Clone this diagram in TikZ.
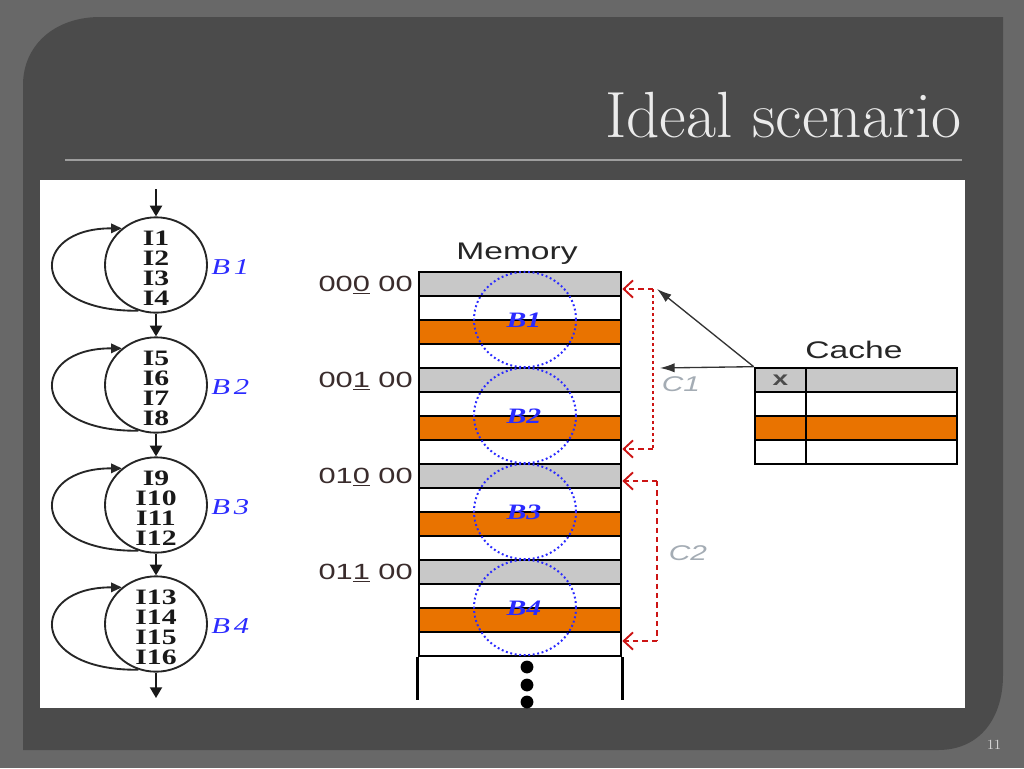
\documentclass[tikz,border=0pt]{standalone}
\usepackage{fontspec}
\usetikzlibrary{shapes.geometric,arrows.meta,calc}
\newfontfamily\wsans[FakeStretch=1.4]{Liberation Sans}
\newfontfamily\wserif[FakeStretch=1.35]{Liberation Serif}
\definecolor{outerbg}{HTML}{686868}
\definecolor{panel}{HTML}{4B4B4B}
\definecolor{orng}{HTML}{E97300}
\definecolor{rowgray}{HTML}{C8C8C8}
\definecolor{bblue}{HTML}{2B2BFF}
\definecolor{dred}{HTML}{CC1414}
\definecolor{lgray}{HTML}{A4ACB4}
\definecolor{addrc}{HTML}{3A2C2C}
\colorlet{row0}{rowgray}
\colorlet{row1}{white}
\colorlet{row2}{orng}
\colorlet{row3}{white}
\begin{document}
\begin{tikzpicture}[x=0.75pt,y=-0.75pt,
  blk/.style={ellipse,draw=black!85,line width=1.4pt,minimum width=76.5pt,minimum height=71.5pt,inner sep=0pt},
  ilist/.style={font=\wserif\bfseries\fontsize{16.5}{15}\selectfont,align=center,inner sep=0pt,text=black!90},
  blab/.style={font=\wserif\itshape\fontsize{17}{17}\selectfont,text=bblue,inner sep=0pt},
  flow/.style={-{Triangle[length=8pt,width=9pt]},line width=1.4pt,draw=black!90},
  loopar/.style={-{Triangle[length=8pt,width=7pt]},line width=1.4pt,draw=black!85},
  memrow/.style={draw=black,line width=2pt,minimum width=151.5pt,minimum height=18pt,inner sep=0pt},
  blockc/.style={ellipse,draw=bblue,line width=1.5pt,dash pattern=on 1.4pt off 2pt,minimum width=76.5pt,minimum height=71.5pt,inner sep=0pt},
  mlab/.style={font=\wserif\bfseries\itshape\fontsize{16.5}{16.5}\selectfont,text=bblue,inner sep=0pt},
  addr/.style={font=\wsans\fontsize{16.5}{16.5}\selectfont,text=addrc,inner sep=0pt},
  hdr/.style={font=\wsans\fontsize{18}{18}\selectfont,text=black!85,inner sep=0pt},
  cell/.style={draw=black,line width=2pt,inner sep=0pt,minimum height=18pt},
  reddash/.style={draw=dred,line width=1.4pt,dash pattern=on 4pt off 3pt},
  reddot/.style={draw=dred,line width=2.2pt,dash pattern=on 2pt off 2.5pt},
  redarr/.style={draw=dred,line width=1.4pt,dash pattern=on 4pt off 3pt,-{Straight Barb[length=7pt,width=13pt]}},
  barrow/.style={draw=black!80,line width=1pt,-{Latex[length=11pt,width=7pt]}},
  clab/.style={font=\wsans\itshape\fontsize{16}{16}\selectfont,text=lgray,inner sep=0pt}
]
\useasboundingbox (0,0) rectangle (1024,768);
\fill[outerbg] (0,0) rectangle (1024,768);
\fill[panel] (23,750) -- (23,85) .. controls (23,45) and (55,17) .. (100,17) -- (1003,17) -- (1003,675) .. controls (1003,718) and (980,750) .. (938,750) -- cycle;
\draw[draw=black!38,line width=1.6pt] (65,160) -- (962,160);
\node[anchor=base east,font=\fontsize{49}{49}\selectfont,text=black!70,inner sep=0pt] (titleshadow) at (964,139) {Ideal scenario};
\node[anchor=base east,font=\fontsize{49}{49}\selectfont,text=black!8,inner sep=0pt] (title) at (962,137) {Ideal scenario};
\node[font=\fontsize{10.5}{10.5}\selectfont,text=black!15,inner sep=0pt] (pagenum) at (994,745) {11};
\fill[white] (40,180) rectangle (965,708);

% ---------- flow graph ----------
\foreach \k/\y in {1/265,2/385,3/505,4/624}{
  \node[blk] (b\k) at (156,\y) {};
  \draw[loopar] (b\k.249) .. controls (28,{\y+47}) and (28,{\y-37}) .. (b\k.133);
  \node[blab,anchor=west] (bl\k) at (211,{\y+2}) {B\kern3pt\k};
}
\node[ilist] (i1) at ($(b1)+(0,-2.2pt)$) {I1\\I2\\I3\\I4};
\node[ilist] (i2) at ($(b2)+(0,-2.2pt)$) {I5\\I6\\I7\\I8};
\node[ilist] (i3) at ($(b3)+(0,-2.2pt)$) {I9\\I10\\I11\\I12};
\node[ilist] (i4) at ($(b4)+(0,-2.2pt)$) {I13\\I14\\I15\\I16};
\coordinate (fin) at (156,189);
\coordinate (fout) at (156,698);
\draw[flow] (fin) -- (b1.north);
\draw[flow] (b1.south) -- (b2.north);
\draw[flow] (b2.south) -- (b3.north);
\draw[flow] (b3.south) -- (b4.north);
\draw[flow] (b4.south) -- (fout);

% ---------- memory ----------
\node[hdr] (memlab) at (517,254) {Memory};
\foreach \i in {1,...,16}{
  \pgfmathtruncatemacro\r{mod(\i-1,4)}
  \node[memrow,fill=row\r] (m\i) at (520,{272+24*(\i-0.5)}) {};
}
\draw[line width=2.2pt] (m16.south west) -- ++(0,43);
\draw[line width=2.2pt] (m16.south east) -- ++(0,43);
\foreach \d/\yy in {1/667,2/685,3/702}{
  \fill[black] (527,\yy) circle[radius=4.8pt];
}
\foreach \k/\y in {1/319.5,2/415.5,3/511.5,4/607.5}{
  \node[blockc] (c\k) at (525,\y) {};
  \node[mlab] (cl\k) at (524,{\y+1}) {B\k};
}
\node[addr,anchor=east] (a1) at (413,285) {00\underline{0} 00};
\node[addr,anchor=east] (a2) at (413,381) {00\underline{1} 00};
\node[addr,anchor=east] (a3) at (413,477) {01\underline{0} 00};
\node[addr,anchor=east] (a4) at (413,573) {01\underline{1} 00};

% ---------- red pointers ----------
\coordinate (c1t) at (653,289);
\coordinate (c1b) at (653,449);
\coordinate (c2t) at (657,481);
\coordinate (c2b) at (657,641);
\draw[reddot] (c1t) -- (c1b);
\draw[redarr] (c1t) -- (m1.east |- c1t);
\draw[redarr] (c1b) -- (m8.east |- c1b);
\draw[reddash] (c2t) -- (c2b);
\draw[redarr] (c2t) -- (m9.east |- c2t);
\draw[redarr] (c2b) -- (m16.east |- c2b);
\node[clab] (lc1) at (681,384) {C1};
\node[clab] (lc2) at (688,553) {C2};

% ---------- cache ----------
\node[hdr] (cachelab) at (854,350) {Cache};
\foreach \j/\y/\f in {1/380/rowgray,2/404/white,3/428/orng,4/452/white}{
  \node[cell,fill=\f,minimum width=38.25pt] (k\j a) at (780.5,\y) {};
  \node[cell,fill=\f,minimum width=113.25pt] (k\j b) at (881.5,\y) {};
}
\node[font=\wsans\bfseries\fontsize{15}{15}\selectfont,text=black!70,inner sep=0pt] (xm) at (k1a) {x};
\coordinate (d1) at (657,289);
\coordinate (d2) at (660,368);
\draw[barrow] (k1a.north west) -- (d1);
\draw[barrow] (k1a.north west) -- (d2);
\end{tikzpicture}
\end{document}
